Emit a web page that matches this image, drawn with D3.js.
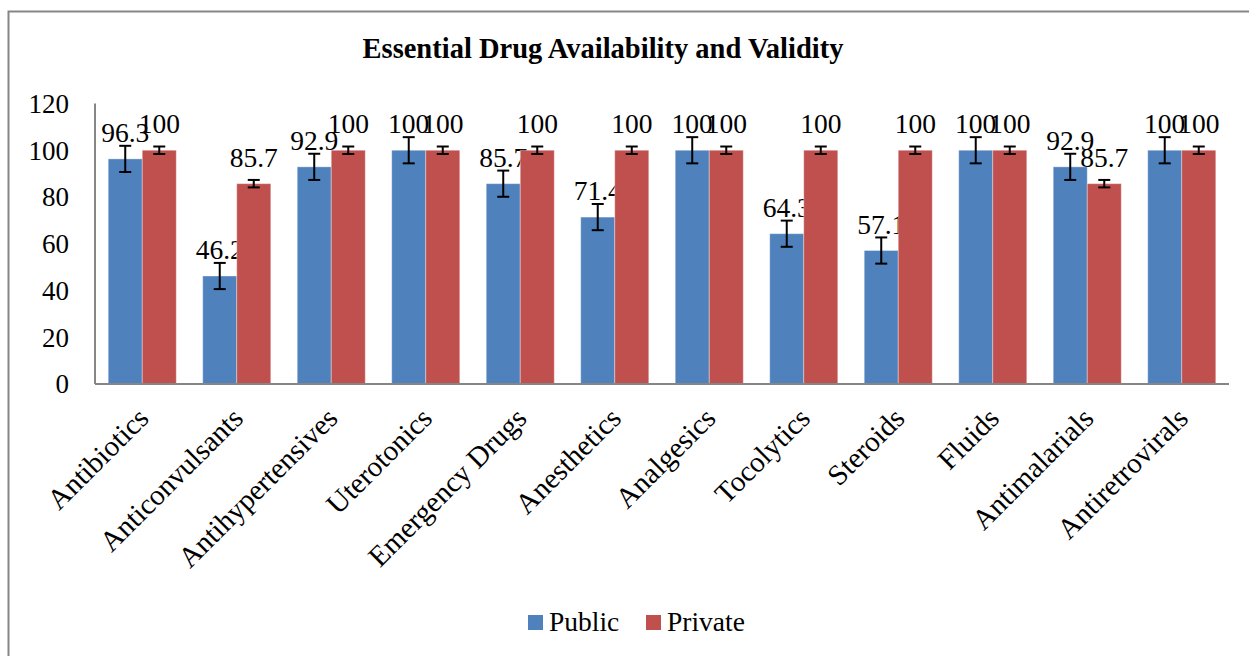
<!DOCTYPE html>
<html>
<head>
<meta charset="utf-8">
<script src="https://cdn.jsdelivr.net/npm/d3@7"></script>
<style>
  body { margin: 0; background: #fff; }
</style>
</head>
<body>
<div id="chart"></div>
<script>
/* CONSTANTS AND GLOBALS */
const width = 1249,
  height = 656,
  serif = "'Liberation Serif', 'Times New Roman', Tinos, 'Nimbus Roman', 'DejaVu Serif', serif";

const categories = ["Antibiotics", "Anticonvulsants", "Antihypertensives", "Uterotonics",
  "Emergency Drugs", "Anesthetics", "Analgesics", "Tocolytics", "Steroids", "Fluids",
  "Antimalarials", "Antiretrovirals"];
const seriesNames = ["Public", "Private"];
const publicValues = [96.3, 46.2, 92.9, 100, 85.7, 71.4, 100, 64.3, 57.1, 100, 92.9, 100];
const privateValues = [100, 85.7, 100, 100, 100, 100, 100, 100, 100, 100, 85.7, 100];
const errorMargins = [5.6, 1.6]; // public, private
const yTicks = [0, 20, 40, 60, 80, 100, 120];
const colors = ["#4F81BD", "#C0504D"];

const seriesValues = [publicValues, privateValues];

const svg = d3.select("#chart")
  .append("svg")
  .attr("width", width)
  .attr("height", height)
  .attr("font-family", serif);

// outer chart border (runs off the picture on right and bottom)
svg.append("rect")
  .attr("x", 8.5)
  .attr("y", 11.5)
  .attr("width", 1300)
  .attr("height", 700)
  .attr("fill", "none")
  .attr("stroke", "#868686")
  .attr("stroke-width", 2);

// + SCALES
const xScale = d3.scaleBand()
  .domain(categories)
  .range([95, 1229])
  .paddingInner(0.28)
  .paddingOuter(0.14);

const xInner = d3.scaleBand()
  .domain(seriesNames)
  .range([0, xScale.bandwidth()]);

const yScale = d3.scaleLinear()
  .domain([0, 120])
  .range([384, 103.5]);

// title
svg.append("text")
  .attr("x", 603)
  .attr("y", 58)
  .attr("text-anchor", "middle")
  .attr("font-size", 28.5)
  .attr("font-weight", "bold")
  .text("Essential Drug Availability and Validity");

// y tick labels
svg.append("g")
  .selectAll("text")
  .data(yTicks)
  .join("text")
  .attr("x", 69)
  .attr("y", d => yScale(d))
  .attr("dy", "0.35em")
  .attr("text-anchor", "end")
  .attr("font-size", 27)
  .text(d => d);

// bars
const groups = svg.append("g")
  .selectAll("g.series")
  .data(seriesNames)
  .join("g")
  .attr("class", "series");

groups.each(function(name, si) {
  const g = d3.select(this);
  const vals = seriesValues[si];
  const err = errorMargins[si];
  const bx = (d, i) => xScale(categories[i]) + xInner(name);
  const cx = (d, i) => bx(d, i) + xInner.bandwidth() / 2;

  g.selectAll("rect")
    .data(vals)
    .join("rect")
    .attr("x", bx)
    .attr("y", d => yScale(d))
    .attr("width", xInner.bandwidth())
    .attr("height", d => yScale(0) - yScale(d))
    .attr("fill", colors[si])
    .attr("stroke", "#ffffff")
    .attr("stroke-opacity", 0.35)
    .attr("stroke-width", 1);

  // error bars
  const eb = g.selectAll("g.err")
    .data(vals)
    .join("g")
    .attr("class", "err")
    .attr("stroke", "#000")
    .attr("stroke-width", 2);
  eb.append("line")
    .attr("x1", cx).attr("x2", cx)
    .attr("y1", d => yScale(d + err))
    .attr("y2", d => yScale(d - err));
  eb.append("line")
    .attr("x1", (d, i) => cx(d, i) - 6).attr("x2", (d, i) => cx(d, i) + 6)
    .attr("y1", d => yScale(d + err)).attr("y2", d => yScale(d + err));
  eb.append("line")
    .attr("x1", (d, i) => cx(d, i) - 6).attr("x2", (d, i) => cx(d, i) + 6)
    .attr("y1", d => yScale(d - err)).attr("y2", d => yScale(d - err));

  // value labels
  g.selectAll("text.val")
    .data(vals)
    .join("text")
    .attr("class", "val")
    .attr("x", cx)
    .attr("y", d => yScale(d) - 17)
    .attr("text-anchor", "middle")
    .attr("font-size", 27.5)
    .text(d => d);
});

// axes lines
svg.append("line")
  .attr("x1", 95).attr("x2", 95)
  .attr("y1", yScale(120)).attr("y2", yScale(0))
  .attr("stroke", "#868686").attr("stroke-width", 2);
svg.append("line")
  .attr("x1", 95).attr("x2", 1229)
  .attr("y1", yScale(0)).attr("y2", yScale(0))
  .attr("stroke", "#868686").attr("stroke-width", 2);

// category labels rotated
svg.append("g")
  .selectAll("text")
  .data(categories)
  .join("text")
  .attr("transform", d => `translate(${xScale(d) + xScale.bandwidth() / 2 + 8},${420}) rotate(-45)`)
  .attr("text-anchor", "end")
  .attr("font-size", 29)
  .text(d => d);

// legend
const legend = svg.append("g");
const legendX = [528, 646];
seriesNames.forEach((name, i) => {
  legend.append("rect")
    .attr("x", legendX[i])
    .attr("y", 615)
    .attr("width", 15)
    .attr("height", 15)
    .attr("fill", colors[i]);
  legend.append("text")
    .attr("x", legendX[i] + 21)
    .attr("y", 631)
    .attr("font-size", 27.5)
    .text(name);
});
</script>
</body>
</html>
